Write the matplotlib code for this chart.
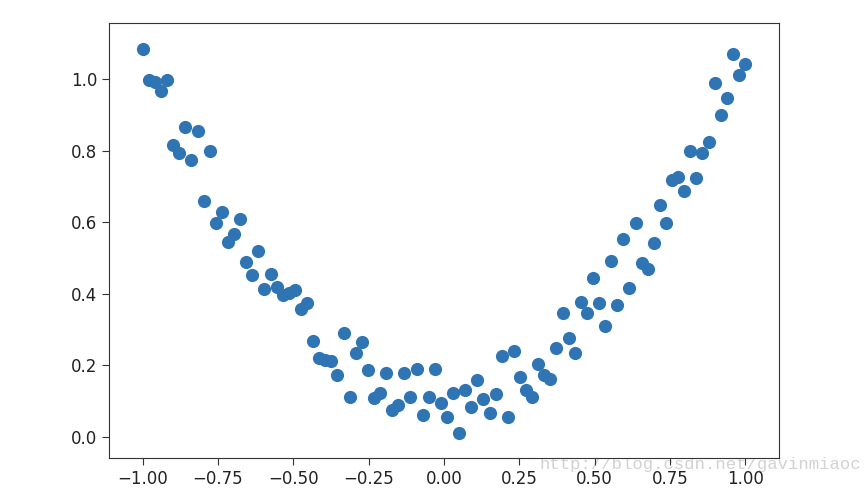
import matplotlib
matplotlib.use("Agg")
import matplotlib.pyplot as plt
import numpy as np

# 100 evenly spaced samples on [-1, 1], noisy parabola
x = np.linspace(-1, 1, 100)
y = [
    1.084, 0.998, 0.993, 0.966, 0.997, 0.815, 0.792, 0.867, 0.775, 0.855,
    0.660, 0.800, 0.598, 0.627, 0.543, 0.566, 0.610, 0.488, 0.452, 0.520,
    0.413, 0.455, 0.418, 0.396, 0.403, 0.410, 0.357, 0.375, 0.268, 0.219,
    0.214, 0.212, 0.172, 0.290, 0.112, 0.235, 0.264, 0.185, 0.107, 0.121,
    0.179, 0.073, 0.089, 0.177, 0.112, 0.189, 0.061, 0.112, 0.189, 0.093,
    0.056, 0.123, 0.011, 0.129, 0.082, 0.157, 0.105, 0.067, 0.119, 0.226,
    0.056, 0.240, 0.168, 0.131, 0.110, 0.202, 0.173, 0.160, 0.247, 0.347,
    0.277, 0.235, 0.377, 0.347, 0.443, 0.375, 0.308, 0.492, 0.368, 0.552,
    0.415, 0.598, 0.485, 0.469, 0.541, 0.648, 0.597, 0.718, 0.727, 0.688,
    0.800, 0.722, 0.792, 0.823, 0.988, 0.899, 0.946, 1.069, 1.011, 1.041,
]

x_ticks = [-1.0, -0.75, -0.5, -0.25, 0.0, 0.25, 0.5, 0.75, 1.0]
y_ticks = [0.0, 0.2, 0.4, 0.6, 0.8, 1.0]
watermark = "http://blog.csdn.net/gavinmiaoc"

fig = plt.figure(figsize=(8.68, 5.0), dpi=100)
ax = fig.add_axes([0.1256, 0.084, 0.772, 0.87])

ax.scatter(x, y, s=90, color="#2f74b3", linewidths=0)

ax.set_xlim(-1.112, 1.113)
ax.set_ylim(-0.06, 1.157)
ax.set_xticks(x_ticks)
ax.set_yticks(y_ticks)
ax.set_xticklabels(["{:.2f}".format(t).replace("-", "\u2212") for t in x_ticks])
ax.set_yticklabels(["{:.1f}".format(t) for t in y_ticks])
ax.tick_params(labelsize=12, length=5, color="#333333", labelcolor="#222222")
for sp in ax.spines.values():
    sp.set_color("#333333")

# faint site watermark sits behind the tick labels, as in the source image
fig.text(0.622, 0.062, watermark, fontsize=12.4, family="Liberation Mono",
         color="#d2d2d2", zorder=-1)

fig.savefig("out.png", dpi=100)
